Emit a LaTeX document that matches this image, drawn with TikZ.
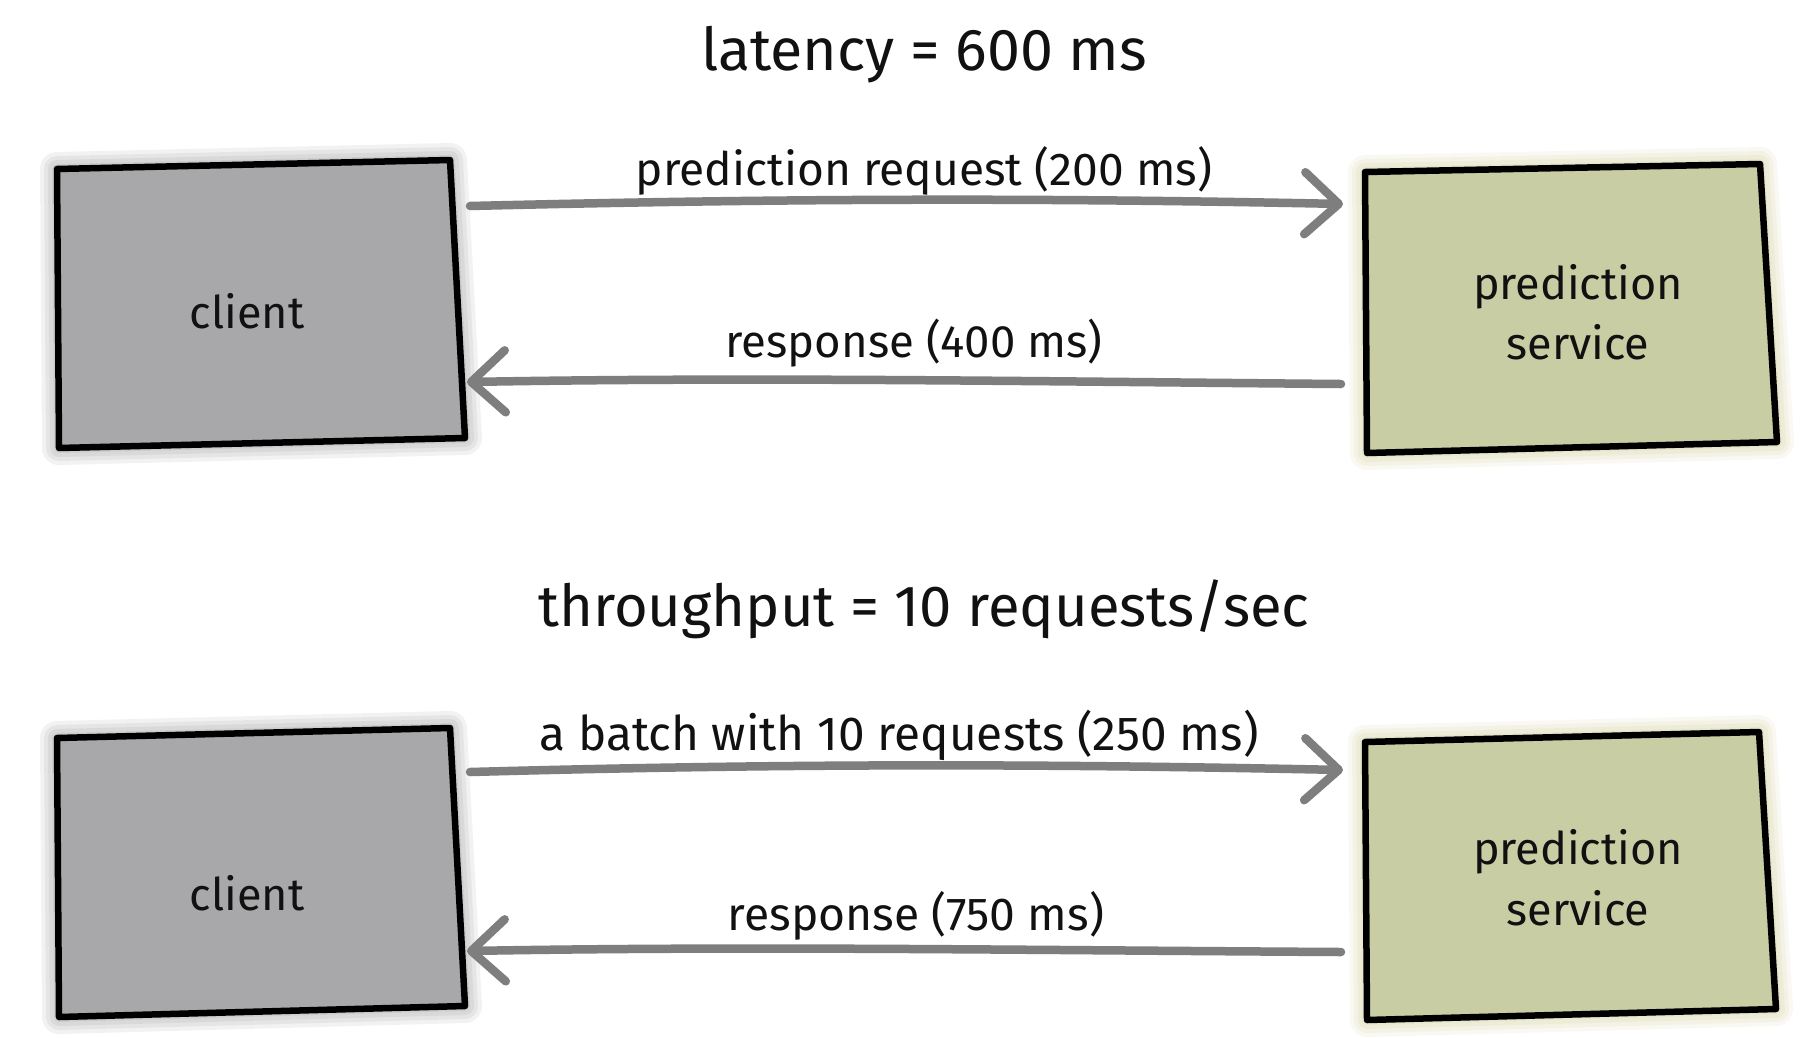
\documentclass[tikz,border=0pt]{standalone}
\usepackage{fontspec}
\setmainfont{Fira Sans}
\usetikzlibrary{arrows.meta}
\definecolor{clientgray}{HTML}{A8A7A9}
\definecolor{servicegreen}{HTML}{C9CDA3}
\definecolor{arrowgray}{HTML}{7E7E7E}
\definecolor{ink}{HTML}{111111}
\newcommand\fitw[2]{\resizebox{#1pt}{!}{#2}}
\begin{document}
\begin{tikzpicture}[x=1pt,y=-1pt,
  boxline/.style={draw=black, line width=6.5pt, line join=round},
  clientbox/.style={boxline, fill=clientgray},
  servicebox/.style={boxline, fill=servicegreen},
  halo/.style={draw=black, line join=round, opacity=0.05},
  flow/.style={draw=arrowgray, line width=8.5pt, line cap=round,
    -{Straight Barb[length=34pt, width=62pt, line cap=round, line join=round]}},
  lbl/.style={text=ink, inner sep=0pt, anchor=base, font=\fontsize{40}{48}\selectfont},
  boxtxt/.style={text=ink, inner sep=0pt, anchor=base, font=\fontsize{45}{52}\selectfont},
]
\useasboundingbox[fill=white] (0,0) rectangle (1818,1037);

% ---------- top section ----------
\coordinate (c1a) at (57,169);  \coordinate (c1b) at (450,160);
\coordinate (c1c) at (465,438); \coordinate (c1d) at (59,448);
\coordinate (s1a) at (1365,172); \coordinate (s1b) at (1760,164);
\coordinate (s1c) at (1777,442); \coordinate (s1d) at (1367,453);

\foreach \w in {10,18,26,34}{
  \draw[halo, line width=\w pt] (c1a) -- (c1b) -- (c1c) -- (c1d) -- cycle;
  \draw[halo, line width=\w pt, draw=olive] (s1a) -- (s1b) -- (s1c) -- (s1d) -- cycle;
}
\draw[clientbox] (c1a) -- (c1b) -- (c1c) -- (c1d) -- cycle;
\draw[servicebox] (s1a) -- (s1b) -- (s1c) -- (s1d) -- cycle;

\node[boxtxt] (client1) at (247,328) {client};
\node[boxtxt] (svc1a) at (1578,299) {prediction};
\node[boxtxt] (svc1b) at (1578,359) {service};

\node[lbl] (lat) at (924,70) {\fitw{446}{latency = 600 ms}};

\coordinate (r1s) at (470,206); \coordinate (r1e) at (1343,204);
\coordinate (p1s) at (1341,384); \coordinate (p1e) at (467,382);
\draw[flow] (r1s) .. controls (800,198) and (1050,198) .. (r1e);
\draw[flow] (p1s) .. controls (1000,381) and (750,377) .. (p1e);
\node[lbl] (req1) at (924,185) {\fitw{576}{prediction request (200 ms)}};
\node[lbl] (res1) at (914,357) {\fitw{377}{response (400 ms)}};

% ---------- bottom section ----------
\coordinate (c2a) at (57,738);  \coordinate (c2b) at (450,728);
\coordinate (c2c) at (465,1006); \coordinate (c2d) at (59,1017);
\coordinate (s2a) at (1365,742); \coordinate (s2b) at (1759,732);
\coordinate (s2c) at (1776,1009); \coordinate (s2d) at (1367,1020);

\foreach \w in {10,18,26,34}{
  \draw[halo, line width=\w pt] (c2a) -- (c2b) -- (c2c) -- (c2d) -- cycle;
  \draw[halo, line width=\w pt, draw=olive] (s2a) -- (s2b) -- (s2c) -- (s2d) -- cycle;
}
\draw[clientbox] (c2a) -- (c2b) -- (c2c) -- (c2d) -- cycle;
\draw[servicebox] (s2a) -- (s2b) -- (s2c) -- (s2d) -- cycle;

\node[boxtxt] (client2) at (247,910) {client};
\node[boxtxt] (svc2a) at (1578,864) {prediction};
\node[boxtxt] (svc2b) at (1578,925) {service};

\node[lbl] (thr) at (924,626) {\fitw{771}{throughput = 10 requests/sec}};

\coordinate (r2s) at (470,772); \coordinate (r2e) at (1343,770);
\coordinate (p2s) at (1341,952); \coordinate (p2e) at (467,951);
\draw[flow] (r2s) .. controls (800,763) and (1050,764) .. (r2e);
\draw[flow] (p2s) .. controls (1000,950) and (750,946) .. (p2e);
\node[lbl] (req2) at (899,750) {\fitw{719}{a batch with 10 requests (250 ms)}};
\node[lbl] (res2) at (916,930) {\fitw{376}{response (750 ms)}};
\end{tikzpicture}
\end{document}
